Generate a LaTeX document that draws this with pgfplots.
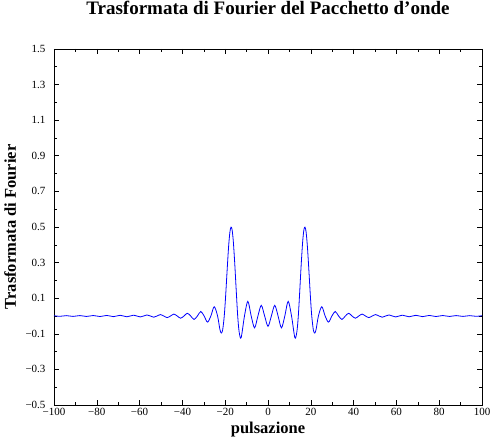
\documentclass[border=0pt]{standalone}
\usepackage{fontspec}
\setmainfont{Liberation Serif}
\usepackage{pgfplots}
\pgfplotsset{compat=1.18}
\begin{document}
\begin{tikzpicture}
\useasboundingbox (-54pt,-37pt) rectangle (438pt,405pt);
\begin{axis}[
    at={(0pt,0pt)}, anchor=south west,
    scale only axis, width=428pt, height=356pt,
    xmin=-100, xmax=100,
    ymin=-0.5, ymax=1.5,
    xtick={-100,-80,-60,-40,-20,0,20,40,60,80,100},
    xticklabels={−100,−80,−60,−40,−20,0,20,40,60,80,100},
    ytick={-0.5,-0.3,-0.1,0.1,0.3,0.5,0.7,0.9,1.1,1.3,1.5},
    yticklabels={−0.5,−0.3,−0.1,0.1,0.3,0.5,0.7,0.9,1.1,1.3,1.5},
    minor x tick num=1, minor y tick num=1,
    tick align=inside,
    major tick length=5pt, minor tick length=3pt,
    tick style={black, line width=0.6pt},
    axis line style={line width=0.6pt},
    ticklabel style={font=\fontsize{11}{12}\selectfont},
    xticklabel style={yshift=0pt},
    yticklabel style={xshift=-5pt},
    title={Trasformata di Fourier del Pacchetto d’onde},
    title style={at={(axis description cs:0.5,1)}, anchor=base, yshift=28pt,
        font=\fontsize{19}{21}\selectfont\bfseries},
    xlabel={pulsazione},
    xlabel style={at={(axis description cs:0.5,0)}, anchor=base, yshift=-28pt,
        inner sep=0pt, font=\fontsize{16.5}{18}\selectfont\bfseries},
    ylabel={Trasformata di Fourier},
    ylabel style={at={(axis description cs:-0.089,0.5)}, anchor=base, rotate=0,
        font=\fontsize{16.5}{18}\selectfont\bfseries},
]
\addplot[color=blue, line width=0.8pt, smooth] coordinates {
(-100,0.0015)(-98.96,0)(-97.39,-0.0019)(-95.82,0)(-94.25,0.0020)(-92.68,0)
(-91.11,-0.0022)(-89.54,0)(-87.96,0.0023)(-86.39,0)(-84.82,-0.0025)(-83.25,0)
(-81.68,0.0027)(-80.11,0)(-78.54,-0.0029)(-76.97,0)(-75.40,0.0032)(-73.83,0)
(-72.26,-0.0035)(-70.69,0)(-69.12,0.0039)(-67.54,0)(-65.97,-0.0043)(-64.40,0)
(-62.83,0.0047)(-61.26,0)(-59.69,-0.0053)(-58.12,0)(-56.55,0.0060)(-54.98,0)
(-53.41,-0.0068)(-51.84,0)(-50.27,0.0078)(-48.69,0)(-47.12,-0.0090)(-45.55,0)
(-43.98,0.0106)(-42.41,0)(-40.84,-0.0126)(-39.27,0)(-37.70,0.0154)(-36.13,0)
(-34.56,-0.0193)(-32.99,0)(-31.42,0.0252)(-29.85,0)(-28.27,-0.0346)(-26.70,0)
(-25.13,0.0520)(-23.56,0)(-22.5,-0.074)(-21.85,-0.0957)(-21.2,-0.079)(-20.44,0)
(-19.8,0.112)(-19.1,0.257)(-18.4,0.392)(-17.8,0.472)(-17.3,0.4994)(-16.8,0.486)
(-16.2,0.418)(-15.5,0.2865)(-14.8,0.1326)(-14.16,0)(-13.5,-0.0878)(-12.566,-0.1223)
(-10.996,0)(-9.425,0.0822)(-7.854,0)(-6.283,-0.0666)(-4.712,0)(-3.142,0.0598)
(-1.571,0)(0,-0.0578)
(1.571,0)(3.142,0.0598)(4.712,0)(6.283,-0.0666)(7.854,0)(9.425,0.0822)
(10.996,0)(12.566,-0.1223)(13.5,-0.0878)(14.16,0)(14.8,0.1326)(15.5,0.2865)
(16.2,0.418)(16.8,0.486)(17.3,0.4994)(17.8,0.472)(18.4,0.392)(19.1,0.257)
(19.8,0.112)(20.44,0)(21.2,-0.079)(21.85,-0.0957)(22.5,-0.074)(23.56,0)
(25.13,0.0520)(26.70,0)(28.27,-0.0346)(29.85,0)(31.42,0.0252)(32.99,0)
(34.56,-0.0193)(36.13,0)(37.70,0.0154)(39.27,0)(40.84,-0.0126)(42.41,0)
(43.98,0.0106)(45.55,0)(47.12,-0.0090)(48.69,0)(50.27,0.0078)(51.84,0)
(53.41,-0.0068)(54.98,0)(56.55,0.0060)(58.12,0)(59.69,-0.0053)(61.26,0)
(62.83,0.0047)(64.40,0)(65.97,-0.0043)(67.54,0)(69.12,0.0039)(70.69,0)
(72.26,-0.0035)(73.83,0)(75.40,0.0032)(76.97,0)(78.54,-0.0029)(80.11,0)
(81.68,0.0027)(83.25,0)(84.82,-0.0025)(86.39,0)(87.96,0.0023)(89.54,0)
(91.11,-0.0022)(92.68,0)(94.25,0.0020)(95.82,0)(97.39,-0.0019)(98.96,0)
(100,0.0015)
};
\end{axis}
\end{tikzpicture}
\end{document}
